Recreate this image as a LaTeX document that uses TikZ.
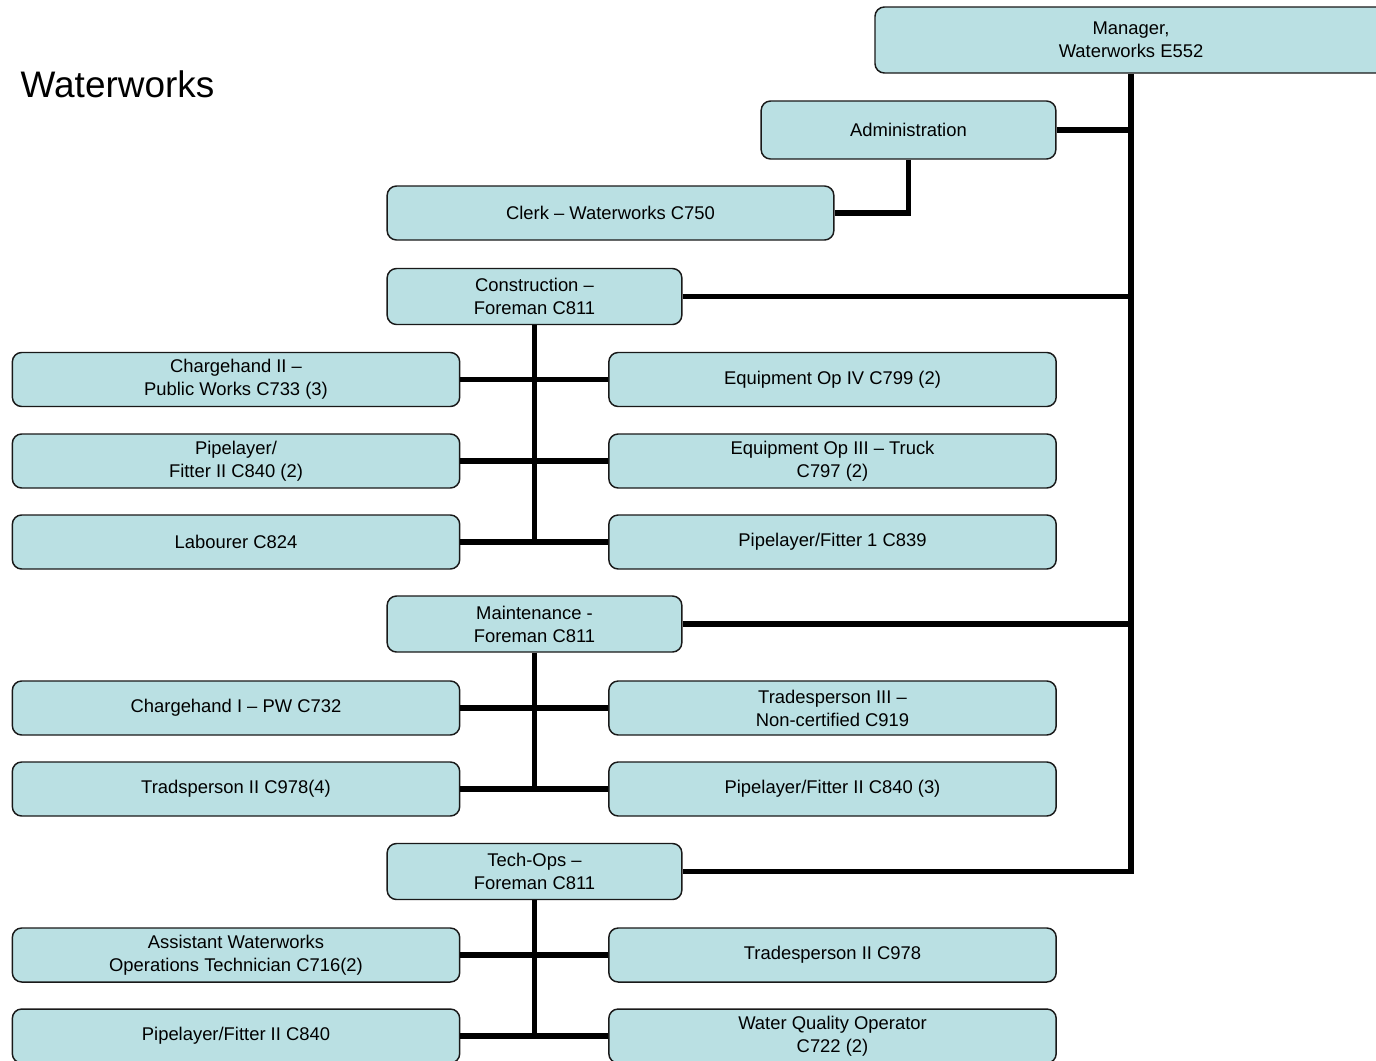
\documentclass[tikz,border=0pt]{standalone}
\usepackage{fontspec}
\setmainfont{Liberation Sans}
\definecolor{boxfill}{RGB}{186,224,227}
\begin{document}
\begin{tikzpicture}[x=0.75pt,y=-0.75pt,
  box/.style={draw=black!90, line width=1.1pt, fill=boxfill, rounded corners=7pt,
    align=center, inner sep=0pt, font=\fontsize{13.8}{17.25}\selectfont},
  wide/.style={box, minimum width=335.5pt, minimum height=40.5pt},
  head/.style={box, minimum width=221pt, minimum height=42pt},
  link/.style={line width=3.8pt, draw=black}]
\useasboundingbox (0,0) rectangle (1376,1060);

\node[anchor=west, font=\fontsize{27.7}{30}\selectfont] (title) at (16,84) {Waterworks};

\node[box, minimum width=384pt, minimum height=49.5pt] (mgr) at (1131,40) {Manager,\\Waterworks E552};
\node[box, minimum width=221pt, minimum height=43.5pt] (adm) at (908.5,130) {Administration};
\node[box, minimum width=335pt, minimum height=40.5pt] (clerk) at (610.5,213) {Clerk -- Waterworks C750};

\node[head] (con) at (534.5,296.5) {Construction --\\Foreman C811};
\node[wide] (la) at (236,379.5) {Chargehand II --\\Public Works C733 (3)};
\node[wide] (ra) at (832.5,379.5) {Equipment Op IV C799 (2)};
\node[wide] (lb) at (236,461) {Pipelayer/\\Fitter II C840 (2)};
\node[wide] (rb) at (832.5,461) {Equipment Op III -- Truck\\C797 (2)};
\node[wide] (lc) at (236,542) {Labourer C824};
\node[wide] (rc) at (832.5,542) {Pipelayer/Fitter 1 C839};

\node[head] (mnt) at (534.5,624) {Maintenance -\\Foreman C811};
\node[wide] (ld) at (236,708) {Chargehand I -- PW C732};
\node[wide] (rd) at (832.5,708) {Tradesperson III --\\Non-certified C919};
\node[wide] (le) at (236,789) {Tradsperson II C978(4)};
\node[wide] (re) at (832.5,789) {Pipelayer/Fitter II C840 (3)};

\node[head] (tec) at (534.5,871.5) {Tech-Ops --\\Foreman C811};
\node[wide] (lf) at (236,955) {Assistant Waterworks\\Operations Technician C716(2)};
\node[wide] (rf) at (832.5,955) {Tradesperson II C978};
\node[wide] (lg) at (236,1036) {Pipelayer/Fitter II C840};
\node[wide] (rg) at (832.5,1036) {Water Quality Operator\\C722 (2)};

% main spine
\draw[link, line width=4.3pt] (mgr.south) |- (tec.east);
\draw[link] (adm.east) -- (adm.east -| mgr.south);
\draw[link] (con.east) -- (con.east -| mgr.south);
\draw[link] (mnt.east) -- (mnt.east -| mgr.south);
\draw[link] (adm.south) |- (clerk.east);

% construction
\draw[link] (con.south) -- ([yshift=-1.5pt]con.south |- lc.east);
\draw[link] (la.east) -- (ra.west);
\draw[link] (lb.east) -- (rb.west);
\draw[link] (lc.east) -- (rc.west);

% maintenance
\draw[link] (mnt.south) -- ([yshift=-1.5pt]mnt.south |- le.east);
\draw[link] (ld.east) -- (rd.west);
\draw[link] (le.east) -- (re.west);

% tech-ops
\draw[link] (tec.south) -- ([yshift=-1.5pt]tec.south |- lg.east);
\draw[link] (lf.east) -- (rf.west);
\draw[link] (lg.east) -- (rg.west);
\end{tikzpicture}
\end{document}
